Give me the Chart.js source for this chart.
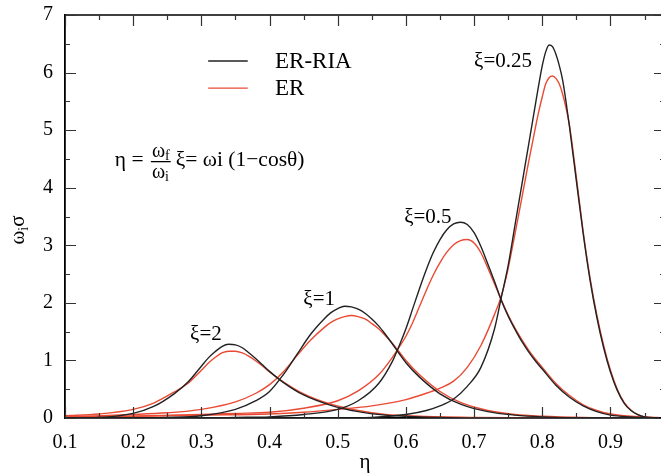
<!DOCTYPE html>
<html>
<head>
<meta charset="utf-8">
<script src="https://cdn.jsdelivr.net/npm/chart.js@4"></script>
<style>
  html, body { margin: 0; padding: 0; background: #fff; overflow: hidden; }
  #chart { display: block; }
</style>
</head>
<body>
<canvas id="chart" width="670" height="475"></canvas>
<script>
// eta grids and values per xi
const etaXi2   = [0.1, 0.15, 0.2, 0.23, 0.26, 0.28, 0.3, 0.31, 0.32, 0.33, 0.34, 0.35, 0.36, 0.37, 0.38, 0.39, 0.4, 0.42, 0.45, 0.49, 0.53, 0.57, 0.62, 0.7, 0.8, 0.97];
const riaXi2   = [0.0, 0.01, 0.08, 0.2, 0.42, 0.62, 0.9, 1.04, 1.15, 1.24, 1.28, 1.27, 1.22, 1.13, 1.03, 0.92, 0.81, 0.62, 0.4, 0.22, 0.11, 0.05, 0.02, 0.0, 0.0, 0.0];
const erXi2    = [0.04, 0.07, 0.15, 0.26, 0.45, 0.6, 0.83, 0.95, 1.05, 1.13, 1.16, 1.16, 1.13, 1.07, 0.99, 0.9, 0.8, 0.63, 0.42, 0.24, 0.13, 0.06, 0.03, 0.01, 0.0, 0.0];

const etaXi1   = [0.1, 0.2, 0.25, 0.3, 0.35, 0.38, 0.4, 0.42, 0.44, 0.46, 0.48, 0.49, 0.5, 0.51, 0.52, 0.53, 0.54, 0.55, 0.56, 0.57, 0.58, 0.59, 0.6, 0.62, 0.65, 0.68, 0.72, 0.76, 0.8, 0.86, 0.97];
const riaXi1   = [0.0, 0.0, 0.01, 0.04, 0.15, 0.3, 0.46, 0.75, 1.1, 1.45, 1.72, 1.83, 1.9, 1.94, 1.93, 1.89, 1.82, 1.72, 1.6, 1.45, 1.29, 1.12, 0.96, 0.71, 0.42, 0.24, 0.11, 0.05, 0.02, 0.0, 0.0];
const erXi1    = [0.02, 0.06, 0.09, 0.15, 0.28, 0.43, 0.58, 0.8, 1.08, 1.35, 1.57, 1.66, 1.72, 1.76, 1.78, 1.76, 1.72, 1.64, 1.55, 1.43, 1.3, 1.15, 1.0, 0.75, 0.46, 0.27, 0.13, 0.06, 0.03, 0.01, 0.0];

const etaXi05  = [0.1, 0.2, 0.3, 0.35, 0.4, 0.45, 0.5, 0.53, 0.56, 0.58, 0.59, 0.6, 0.61, 0.62, 0.63, 0.64, 0.65, 0.66, 0.67, 0.68, 0.69, 0.7, 0.71, 0.72, 0.73, 0.74, 0.75, 0.76, 0.77, 0.78, 0.79, 0.8, 0.82, 0.84, 0.86, 0.88, 0.9, 0.93, 0.97];
const riaXi05  = [0.0, 0.0, 0.0, 0.01, 0.02, 0.06, 0.15, 0.3, 0.6, 0.98, 1.25, 1.55, 1.9, 2.25, 2.58, 2.87, 3.1, 3.27, 3.37, 3.4, 3.36, 3.22, 2.98, 2.68, 2.37, 2.04, 1.77, 1.54, 1.33, 1.15, 0.99, 0.85, 0.57, 0.36, 0.21, 0.11, 0.05, 0.02, 0.0];
const erXi05   = [0.01, 0.03, 0.06, 0.08, 0.1, 0.17, 0.3, 0.47, 0.75, 1.05, 1.23, 1.42, 1.66, 1.94, 2.22, 2.48, 2.7, 2.88, 3.01, 3.08, 3.1, 3.04, 2.87, 2.61, 2.33, 2.05, 1.79, 1.56, 1.36, 1.18, 1.02, 0.88, 0.6, 0.39, 0.23, 0.13, 0.07, 0.03, 0.01];

const etaXi025 = [0.1, 0.2, 0.3, 0.4, 0.45, 0.5, 0.55, 0.6, 0.63, 0.65, 0.67, 0.69, 0.71, 0.73, 0.74, 0.75, 0.76, 0.77, 0.78, 0.79, 0.795, 0.8, 0.805, 0.81, 0.815, 0.82, 0.825, 0.83, 0.835, 0.84, 0.85, 0.86, 0.87, 0.88, 0.89, 0.9, 0.91, 0.92, 0.93, 0.94, 0.95, 0.97];
const riaXi025 = [0, 0, 0, 0, 0, 0, 0.01, 0.06, 0.13, 0.21, 0.33, 0.55, 0.88, 1.55, 2.1, 2.65, 3.35, 4.05, 4.75, 5.45, 5.8, 6.12, 6.36, 6.48, 6.45, 6.32, 6.12, 5.86, 5.48, 5.05, 4.12, 3.2, 2.4, 1.75, 1.22, 0.8, 0.48, 0.26, 0.13, 0.06, 0.02, 0.0];
const erXi025  = [0.02, 0.03, 0.05, 0.07, 0.1, 0.15, 0.21, 0.32, 0.43, 0.52, 0.64, 0.88, 1.26, 1.8, 2.12, 2.6, 3.2, 3.82, 4.45, 5.05, 5.33, 5.58, 5.8, 5.91, 5.94, 5.9, 5.8, 5.62, 5.38, 5.08, 4.18, 3.24, 2.44, 1.79, 1.26, 0.83, 0.5, 0.27, 0.14, 0.06, 0.02, 0.0];

const yTicks = [0, 1, 2, 3, 4, 5, 6, 7];
const xTicks = [0.1, 0.2, 0.3, 0.4, 0.5, 0.6, 0.7, 0.8, 0.9];

// label anchors in data units [eta, value]
const peakLabels = [
  { text: 'ξ=0.25', at: [0.785, 6.09] },
  { text: 'ξ=0.5',  at: [0.667, 3.39] },
  { text: 'ξ=1',    at: [0.496, 1.96] },
  { text: 'ξ=2',    at: [0.330, 1.35] }
];

const BLACK = '#222222';
const RED = '#ea4a33';
const SERIF = '"Liberation Serif", "DejaVu Serif", serif';

const pts = (xs, ys) => xs.map((x, i) => ({ x: x, y: ys[i] }));
const line = (label, xs, ys, color) => ({
  label: label,
  data: pts(xs, ys),
  borderColor: color,
  backgroundColor: 'transparent',
  borderWidth: 1.4,
  pointRadius: 0,
  cubicInterpolationMode: 'monotone',
  fill: false
});

function runs(ctx, x, y, list) {
  list.forEach(([t, size, dy]) => {
    ctx.font = size + 'px ' + SERIF;
    ctx.fillText(t, x, y + (dy || 0));
    x += ctx.measureText(t).width;
  });
  return x;
}

const decor = {
  id: 'decor',
  afterDraw(chart) {
    const ctx = chart.ctx;
    const xs = chart.scales.x, ys = chart.scales.y;
    const a = chart.chartArea;
    ctx.save();
    // frame
    ctx.strokeStyle = '#000';
    ctx.lineWidth = 1.5;
    ctx.beginPath();
    ctx.moveTo(a.left, a.top); ctx.lineTo(a.right, a.top); ctx.lineTo(a.right, a.bottom);
    ctx.stroke();
    // inward ticks
    ctx.strokeStyle = '#333';
    ctx.lineWidth = 1.2;
    ctx.beginPath();
    for (let v = 0.1; v <= 0.98; v += 0.05) {
      const px = Math.round(xs.getPixelForValue(v)) + 0.5;
      const major = Math.abs(v * 10 - Math.round(v * 10)) < 1e-6;
      const len = major ? 11 : 5;
      ctx.moveTo(px, a.bottom); ctx.lineTo(px, a.bottom - len);
      ctx.moveTo(px, a.top); ctx.lineTo(px, a.top + len);
    }
    for (let v = 0; v <= 7; v += 0.5) {
      const py = Math.round(ys.getPixelForValue(v)) + 0.5;
      const len = Number.isInteger(v) ? 11 : 5;
      ctx.moveTo(a.left, py); ctx.lineTo(a.left + len, py);
      ctx.moveTo(a.right, py); ctx.lineTo(a.right - len, py);
    }
    ctx.stroke();

    ctx.fillStyle = '#000';
    // legend
    const lx0 = xs.getPixelForValue(0.31), lx1 = xs.getPixelForValue(0.368);
    const tx = xs.getPixelForValue(0.408);
    [[6.2, BLACK, 'ER-RIA'], [5.73, RED, 'ER']].forEach(([v, c, t]) => {
      const py = ys.getPixelForValue(v);
      ctx.strokeStyle = c; ctx.lineWidth = 1.4;
      ctx.beginPath(); ctx.moveTo(lx0, py); ctx.lineTo(lx1, py); ctx.stroke();
      ctx.textAlign = 'left'; ctx.textBaseline = 'middle';
      ctx.font = '23px ' + SERIF;
      ctx.fillText(t, tx, py + 1);
    });
    ctx.textBaseline = 'alphabetic';

    // peak labels
    ctx.font = '21px ' + SERIF;
    ctx.textAlign = 'right';
    peakLabels.forEach(l => {
      ctx.fillText(l.text, xs.getPixelForValue(l.at[0]), ys.getPixelForValue(l.at[1]));
    });

    // formula
    ctx.textAlign = 'left';
    const fx = xs.getPixelForValue(0.173), fy = ys.getPixelForValue(4.375);
    let cx = runs(ctx, fx, fy, [['η = ', 21.5, 0]]) + 2;
    const nEnd = runs(ctx, cx + 1, fy - 9, [['ω', 20, 0], ['f', 14, 3]]);
    runs(ctx, cx + 1, fy + 12, [['ω', 20, 0], ['i', 14, 3]]);
    ctx.strokeStyle = '#000'; ctx.lineWidth = 1.3;
    ctx.beginPath(); ctx.moveTo(cx, fy - 4.5); ctx.lineTo(nEnd + 1, fy - 4.5); ctx.stroke();
    runs(ctx, nEnd + 6, fy, [['ξ= ωi (1−cosθ)', 21.5, 0]]);

    // y title
    ctx.save();
    ctx.translate(24, 230);
    ctx.rotate(-Math.PI / 2);
    ctx.textAlign = 'left';
    ctx.font = '21px ' + SERIF;
    const w = ctx.measureText('ω').width;
    ctx.font = '14px ' + SERIF;
    const wi = ctx.measureText('i').width;
    ctx.font = '21px ' + SERIF;
    const ws = ctx.measureText('σ').width;
    runs(ctx, -(w + wi + ws) / 2, 0, [['ω', 21, 0], ['i', 14, 4], ['σ', 21, 0]]);
    ctx.restore();

    ctx.restore();
  }
};

new Chart(document.getElementById('chart'), {
  type: 'line',
  data: {
    datasets: [
      line('ER-RIA ξ=2', etaXi2, riaXi2, BLACK),
      line('ER-RIA ξ=1', etaXi1, riaXi1, BLACK),
      line('ER-RIA ξ=0.5', etaXi05, riaXi05, BLACK),
      line('ER-RIA ξ=0.25', etaXi025, riaXi025, BLACK),
      line('ER ξ=2', etaXi2, erXi2, RED),
      line('ER ξ=1', etaXi1, erXi1, RED),
      line('ER ξ=0.5', etaXi05, erXi05, RED),
      line('ER ξ=0.25', etaXi025, erXi025, RED)
    ]
  },
  options: {
    responsive: false,
    animation: false,
    layout: { padding: { top: 15, right: 5, left: 0, bottom: 0 } },
    plugins: { legend: { display: false }, tooltip: { enabled: false } },
    scales: {
      x: {
        type: 'linear',
        min: 0.1,
        max: 0.98,
        afterBuildTicks: s => { s.ticks = xTicks.map(v => ({ value: v })); },
        afterFit: s => { s.height = 57; s.paddingLeft = 0; s.paddingRight = 0; },
        grid: { display: false, drawTicks: false },
        border: { display: true, color: '#000', width: 1.8 },
        ticks: {
          color: '#000',
          font: { family: SERIF, size: 20 },
          padding: 13,
          maxRotation: 0,
          callback: v => v.toFixed(1)
        },
        title: { display: true, text: 'η', color: '#000', font: { family: SERIF, size: 21 }, padding: { top: 3, bottom: 0 } }
      },
      y: {
        min: 0,
        max: 7,
        afterBuildTicks: s => { s.ticks = yTicks.map(v => ({ value: v })); },
        afterFit: s => { s.width = 65; s.paddingTop = 0; s.paddingBottom = 0; },
        grid: { display: false, drawTicks: false },
        border: { display: true, color: '#000', width: 1.8 },
        ticks: {
          color: '#000',
          font: { family: SERIF, size: 20 },
          padding: 12
        }
      }
    }
  },
  plugins: [decor]
});
</script>
</body>
</html>
